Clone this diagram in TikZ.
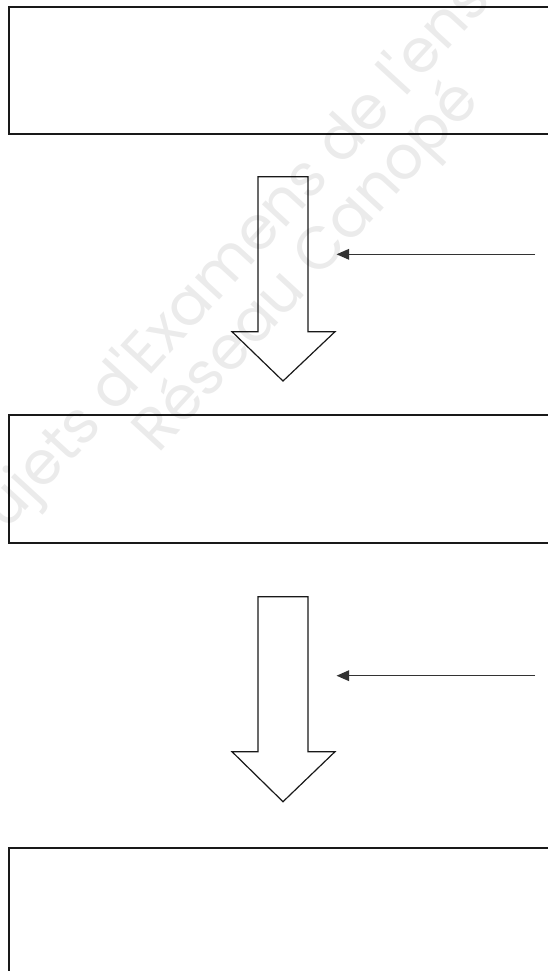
\documentclass[tikz,border=0pt]{standalone}
\usepackage{fontspec}
\newfontfamily\wmfont{Poppins}
\usetikzlibrary{arrows.meta}
\tikzset{
  frame/.style={draw=black!90, line width=1.5pt, fill=none},
  blockarrow/.style={draw=black!90, line width=0.9pt, fill=white, line join=miter},
  feed/.style={draw=black!80, line width=1.1pt, -{Triangle[length=9.5pt,width=8pt]}},
  watermark/.style={text=black, text opacity=0.08, font=\wmfont\fontsize{45}{45}\selectfont, inner sep=0pt}
}
\begin{document}
\begin{tikzpicture}[x=0.75pt,y=-0.75pt]
\useasboundingbox (0,0) rectangle (548,971);
\clip (0,0) rectangle (548,971);
\fill[white] (0,0) rectangle (548,971);
% boxes
\draw[frame] (9,6.7) rectangle (620,134.3);
\draw[frame] (9,415) rectangle (620,543.3);
\draw[frame] (9,848) rectangle (620,1000);
% block arrow 1
\draw[blockarrow] (258,176.7) -- (308,176.7) -- (308,331.7) -- (335,331.7) -- (283,381)
  -- (232,331.7) -- (258,331.7) -- cycle;
% block arrow 2
\draw[blockarrow] (258,596.7) -- (308,596.7) -- (308,751.7) -- (335,751.7) -- (283,801.7)
  -- (232,751.7) -- (258,751.7) -- cycle;
% side arrows
\coordinate (s1) at (535,254.3);
\coordinate (t1) at (336.5,254.3);
\coordinate (s2) at (535,675.7);
\coordinate (t2) at (336.5,675.7);
\draw[feed] (s1) -- (t1);
\draw[feed] (s2) -- (t2);
% watermark
\node[watermark, rotate=47.5, anchor=base west] (wm1) at (-17,558) {Sujets d'Examens de l'enseignement};
\node[watermark, rotate=47.5, anchor=base west] (wm2) at (158,455) {Réseau Canopé};
\end{tikzpicture}
\end{document}
